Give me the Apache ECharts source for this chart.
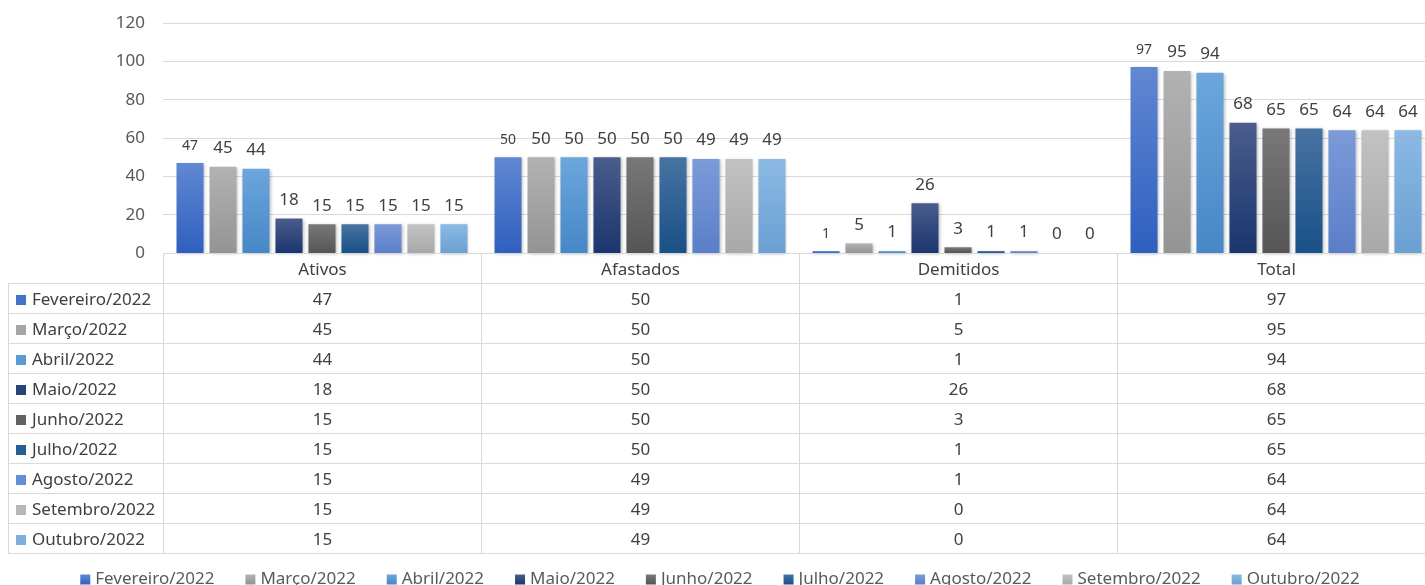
<!DOCTYPE html>
<html lang="pt">
<head>
<meta charset="UTF-8">
<title>Quadro de funcionários</title>
<script src="https://cdn.jsdelivr.net/npm/echarts@6/dist/echarts.min.js"></script>
<style>
    * { margin: 0; padding: 0; }
    html, body { width: 1425px; height: 585px; overflow: hidden; background: #fff; }
    #main { position: absolute; left: 0; top: 0; width: 1440px; height: 585px; }
    #tabela {
        position: absolute; left: 8px; top: 253px; width: 1427px;
        border-collapse: collapse; table-layout: fixed;
        font-family: 'Noto Sans', sans-serif; font-size: 17px; color: #404040;
    }
    #tabela td { height: 29px; line-height: 26px; border: 1px solid #d9d9d9; text-align: center; padding: 0; white-space: nowrap; overflow: hidden; }
    #tabela td.nome { text-align: left; padding-left: 7px; }
    #tabela td.vazio { border: none; border-right: 1px solid #d9d9d9; }
    .quad { display: inline-block; width: 10px; height: 10px; margin-right: 6px; vertical-align: 0px; }
</style>
</head>
<body>
<div id="main"></div>
<table id="tabela"></table>
<script>
    var categorias = ['Ativos', 'Afastados', 'Demitidos', 'Total'];
    var meses = ['Fevereiro/2022', 'Março/2022', 'Abril/2022', 'Maio/2022', 'Junho/2022',
        'Julho/2022', 'Agosto/2022', 'Setembro/2022', 'Outubro/2022'];
    // valores por mês: [Ativos, Afastados, Demitidos, Total]
    var fevereiro = [47, 50, 1, 97];
    var marco = [45, 50, 5, 95];
    var abril = [44, 50, 1, 94];
    var maio = [18, 50, 26, 68];
    var junho = [15, 50, 3, 65];
    var julho = [15, 50, 1, 65];
    var agosto = [15, 49, 1, 64];
    var setembro = [15, 49, 0, 64];
    var outubro = [15, 49, 0, 64];
    var valores = [fevereiro, marco, abril, maio, junho, julho, agosto, setembro, outubro];

    // cor base, topo e base do degradê
    var cores = [
        ['#4472c4', '#6088d2', '#2f5fbf'],
        ['#a5a5a5', '#b2b2b2', '#949494'],
        ['#5b9bd5', '#6ca6dd', '#4687c6'],
        ['#264478', '#4a5d8c', '#1b356e'],
        ['#636363', '#787878', '#555555'],
        ['#255e91', '#4773a2', '#195087'],
        ['#698ed0', '#7c9ad9', '#5a7fc8'],
        ['#b7b7b7', '#c2c2c2', '#a8a8a8'],
        ['#7cafdd', '#8bb9e4', '#6aa0d2']
    ];

    var gridLeft = 163, larguraCat = 318;

    var myChart = echarts.init(document.getElementById('main'));

    var series = [];
    for (var i = 0; i < meses.length; i++) {
        series.push({
            name: meses[i],
            type: 'bar',
            data: valores[i],
            barGap: '22%',
            barCategoryGap: '8.5%',
            itemStyle: {
                color: new echarts.graphic.LinearGradient(0, 0, 0, 1, [
                    { offset: 0, color: cores[i][1] },
                    { offset: 1, color: cores[i][2] }
                ]),
                shadowColor: 'rgba(0,0,0,0.25)',
                shadowBlur: 3,
                shadowOffsetX: 1,
                shadowOffsetY: 1
            },
            label: {
                show: true,
                position: 'top',
                distance: 10,
                color: '#404040',
                fontFamily: 'Noto Sans',
                fontSize: i === 0 ? 14 : 17
            }
        });
    }

    myChart.setOption({
        animation: false,
        textStyle: { fontFamily: 'Noto Sans' },
        color: cores.map(function (c) { return c[0]; }),
        grid: { left: gridLeft, top: 23, width: larguraCat * 4, height: 230 },
        legend: {
            data: meses,
            top: 566,
            left: 'center',
            icon: 'rect',
            itemWidth: 10,
            itemHeight: 10,
            itemGap: 31,
            textStyle: { color: '#595959', fontSize: 17, fontFamily: 'Noto Sans' }
        },
        xAxis: {
            type: 'category',
            data: categorias,
            axisLine: { show: false },
            axisTick: { show: false },
            axisLabel: { show: false }
        },
        yAxis: {
            type: 'value',
            min: 0,
            max: 120,
            interval: 20,
            axisLabel: { color: '#595959', fontSize: 17, margin: 18 },
            splitLine: { lineStyle: { color: '#d9d9d9' } }
        },
        series: series
    });

    // tabela de dados abaixo do gráfico
    var tabela = document.getElementById('tabela');
    var html = '<colgroup><col style="width:155px">';
    for (var c = 0; c < categorias.length; c++) html += '<col style="width:' + larguraCat + 'px">';
    html += '</colgroup><tr><td class="vazio"></td>';
    for (var c = 0; c < categorias.length; c++) html += '<td>' + categorias[c] + '</td>';
    html += '</tr>';
    for (var m = 0; m < meses.length; m++) {
        html += '<tr><td class="nome"><span class="quad" style="background:' + cores[m][0] + '"></span>' + meses[m] + '</td>';
        for (var c = 0; c < categorias.length; c++) html += '<td>' + valores[m][c] + '</td>';
        html += '</tr>';
    }
    tabela.innerHTML = html;
</script>
</body>
</html>
